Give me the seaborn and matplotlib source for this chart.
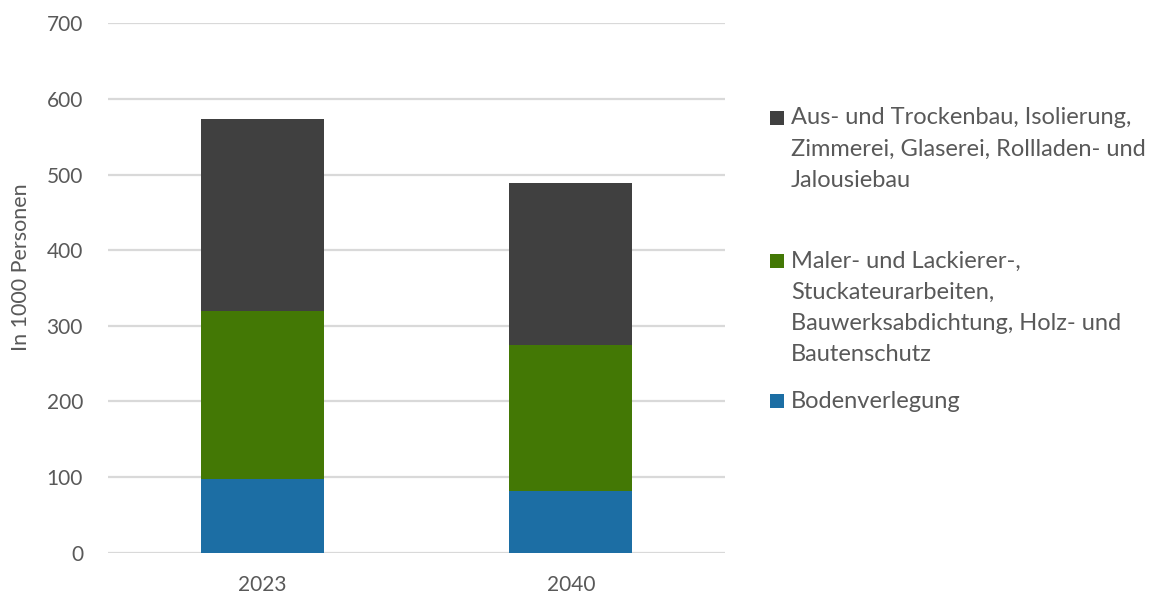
import matplotlib
matplotlib.use("Agg")
import matplotlib.pyplot as plt
import matplotlib.patches as mpatches
import seaborn as sns
import pandas as pd
import numpy as np

years = ["2023", "2040"]
boden = [97, 82]
maler = [223, 193]
ausbau = [254, 214]

series_names = [
    "Bodenverlegung",
    "Maler- und Lackierer-,\nStuckateurarbeiten,\nBauwerksabdichtung, Holz- und\nBautenschutz",
    "Aus- und Trockenbau, Isolierung,\nZimmerei, Glaserei, Rollladen- und\nJalousiebau",
]
series_values = [boden, maler, ausbau]
series_colors = ["#1c6ea4", "#437805", "#404040"]

yticks = [0, 100, 200, 300, 400, 500, 600, 700]
ylabel = "In 1000 Personen"

sns.set_theme(style="white")
plt.rcParams["font.family"] = ["Lato", "DejaVu Sans"]
text_color = "#595959"

fig = plt.figure(figsize=(11.55, 5.96), dpi=100)
ax = fig.add_axes([108 / 1155, 1 - 552.7 / 596, (725 - 108) / 1155, (552.7 - 23.3) / 596])

bottom = np.zeros(len(years))
for name, vals, col in zip(series_names, series_values, series_colors):
    df = pd.DataFrame({"year": years, "value": vals})
    sns.barplot(data=df, x="year", y="value", color=col, width=0.4,
                bottom=bottom, ax=ax, saturation=1, linewidth=0)
    bottom = bottom + np.array(vals)

ax.set_xlim(-0.5, 1.5)
ax.set_ylim(0, 700)
ax.set_yticks(yticks)
ax.set_yticklabels([str(t) for t in yticks])
ax.yaxis.grid(True, color="#d9d9d9", linewidth=1.6)
ax.set_axisbelow(True)
for s in ax.spines.values():
    s.set_visible(False)
ax.tick_params(axis="y", length=0, pad=18, labelsize=15, labelcolor=text_color)
ax.tick_params(axis="x", length=0, pad=16, labelsize=15, labelcolor=text_color)
ax.set_xlabel("")
ax.set_ylabel(ylabel, fontsize=15.5, color=text_color)
ax.yaxis.set_label_coords(-0.124, 0.54)

# Legend (Excel-like: marker aligned with first line of each entry)
legend_entries = [
    (series_names[2], series_colors[2], 118),
    (series_names[1], series_colors[1], 261),
    (series_names[0], series_colors[0], 401),
]
line_step = 31.3
for label, col, y0 in legend_entries:
    fig.add_artist(mpatches.Rectangle((770 / 1155, 1 - (y0 + 7) / 596), 14 / 1155, 14 / 596,
                                      transform=fig.transFigure, facecolor=col, edgecolor="none"))
    for i, line in enumerate(label.split("\n")):
        fig.text(791 / 1155, 1 - (y0 + i * line_step) / 596, line, fontsize=17,
                 color=text_color, va="center", ha="left")

fig.savefig("out.png", dpi=100)
